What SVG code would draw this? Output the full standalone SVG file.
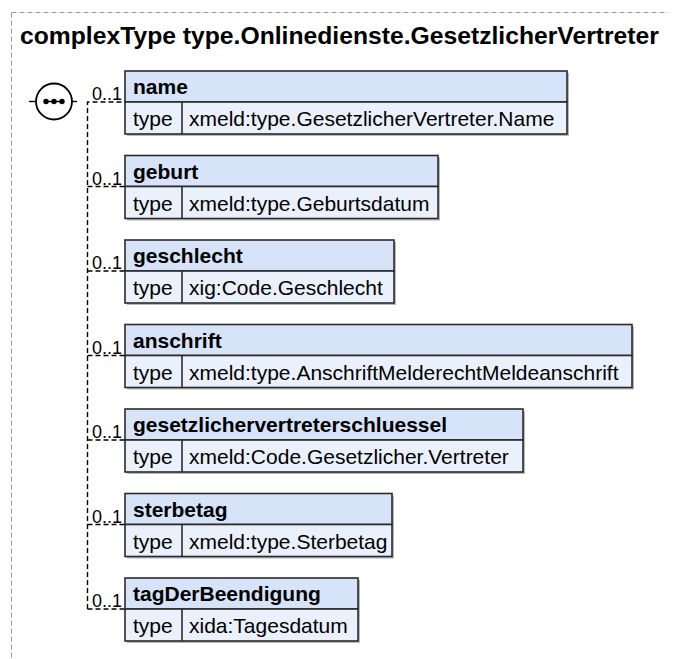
<svg xmlns="http://www.w3.org/2000/svg" width="679" height="659" viewBox="0 0 679 659">
<style>
  text { font-family: "Liberation Sans", Arial, sans-serif; fill: #000; }
  .title { font-size: 24.7px; font-weight: bold; }
  .hname { font-size: 21px; font-weight: bold; }
  .cell { font-size: 21px; }
  .card { font-size: 18px; }
  .frame { fill: none; stroke: #999; stroke-width: 1; stroke-dasharray: 5 3; }
  .hdr { fill: #d6e3f8; stroke: #2b2b2b; stroke-width: 1.6; }
  .row { fill: #eaf1fc; stroke: #2b2b2b; stroke-width: 1.6; }
  .shadow { fill: #b8b8b8; }
  .div { stroke: #2b2b2b; stroke-width: 1.6; }
  .conn { fill: none; stroke: #000; stroke-width: 1.4; stroke-dasharray: 5 3; }
</style>

<path class="frame" d="M11.5,12.5 H668 M11.5,12.5 V659"/>
<text class="title" x="20" y="44">complexType type.Onlinedienste.GesetzlicherVertreter</text>

<g id="connectors">
  <line class="conn" x1="29" y1="101.5" x2="36" y2="101.5" style="stroke-dasharray:none"/>
  <path class="conn" d="M72,101.5 H80"/>
  <path class="conn" d="M87.5,609 V102 H125"/>
  <path class="conn" d="M87.5,186.5 H125"/>
  <path class="conn" d="M87.5,271 H125"/>
  <path class="conn" d="M87.5,355.5 H125"/>
  <path class="conn" d="M87.5,440 H125"/>
  <path class="conn" d="M87.5,524.5 H125"/>
  <path class="conn" d="M87.5,609 H125"/>
  <text class="card" x="92" y="100">0..1</text>
  <text class="card" x="92" y="184.5">0..1</text>
  <text class="card" x="92" y="269">0..1</text>
  <text class="card" x="92" y="353.5">0..1</text>
  <text class="card" x="92" y="438">0..1</text>
  <text class="card" x="92" y="522.5">0..1</text>
  <text class="card" x="92" y="607">0..1</text>
</g>

<g id="sequence">
  <circle cx="54" cy="101.5" r="18" fill="#fff" stroke="#000" stroke-width="1.8"/>
  <line x1="44" y1="101.5" x2="64" y2="101.5" stroke="#000" stroke-width="1.5"/>
  <circle cx="46" cy="101.5" r="2.7" fill="#000"/>
  <circle cx="54" cy="101.5" r="2.7" fill="#000"/>
  <circle cx="62" cy="101.5" r="2.7" fill="#000"/>
</g>

<g id="name" transform="translate(125,71)">
  <rect class="shadow" x="2" y="2" width="442" height="63"/>
  <rect class="hdr" x="0" y="0" width="442" height="31"/>
  <rect class="row" x="0" y="31" width="442" height="32"/>
  <line class="div" x1="57" y1="31" x2="57" y2="63"/>
  <text class="hname" x="8" y="23">name</text>
  <text class="cell" x="8" y="55">type</text>
  <text class="cell" x="64" y="55">xmeld:type.GesetzlicherVertreter.Name</text>
</g>

<g id="geburt" transform="translate(125,155.5)">
  <rect class="shadow" x="2" y="2" width="313" height="63"/>
  <rect class="hdr" x="0" y="0" width="313" height="31"/>
  <rect class="row" x="0" y="31" width="313" height="32"/>
  <line class="div" x1="57" y1="31" x2="57" y2="63"/>
  <text class="hname" x="8" y="23">geburt</text>
  <text class="cell" x="8" y="55">type</text>
  <text class="cell" x="64" y="55">xmeld:type.Geburtsdatum</text>
</g>

<g id="geschlecht" transform="translate(125,240)">
  <rect class="shadow" x="2" y="2" width="269" height="63"/>
  <rect class="hdr" x="0" y="0" width="269" height="31"/>
  <rect class="row" x="0" y="31" width="269" height="32"/>
  <line class="div" x1="57" y1="31" x2="57" y2="63"/>
  <text class="hname" x="8" y="23">geschlecht</text>
  <text class="cell" x="8" y="55">type</text>
  <text class="cell" x="64" y="55">xig:Code.Geschlecht</text>
</g>

<g id="anschrift" transform="translate(125,324.5)">
  <rect class="shadow" x="2" y="2" width="507" height="63"/>
  <rect class="hdr" x="0" y="0" width="507" height="31"/>
  <rect class="row" x="0" y="31" width="507" height="32"/>
  <line class="div" x1="57" y1="31" x2="57" y2="63"/>
  <text class="hname" x="8" y="23">anschrift</text>
  <text class="cell" x="8" y="55">type</text>
  <text class="cell" x="64" y="55">xmeld:type.AnschriftMelderechtMeldeanschrift</text>
</g>

<g id="gesetzlichervertreterschluessel" transform="translate(125,409)">
  <rect class="shadow" x="2" y="2" width="398" height="63"/>
  <rect class="hdr" x="0" y="0" width="398" height="31"/>
  <rect class="row" x="0" y="31" width="398" height="32"/>
  <line class="div" x1="57" y1="31" x2="57" y2="63"/>
  <text class="hname" x="8" y="23">gesetzlichervertreterschluessel</text>
  <text class="cell" x="8" y="55">type</text>
  <text class="cell" x="64" y="55">xmeld:Code.Gesetzlicher.Vertreter</text>
</g>

<g id="sterbetag" transform="translate(125,493.5)">
  <rect class="shadow" x="2" y="2" width="267" height="63"/>
  <rect class="hdr" x="0" y="0" width="267" height="31"/>
  <rect class="row" x="0" y="31" width="267" height="32"/>
  <line class="div" x1="57" y1="31" x2="57" y2="63"/>
  <text class="hname" x="8" y="23">sterbetag</text>
  <text class="cell" x="8" y="55">type</text>
  <text class="cell" x="64" y="55">xmeld:type.Sterbetag</text>
</g>

<g id="tagDerBeendigung" transform="translate(125,578)">
  <rect class="shadow" x="2" y="2" width="233" height="63"/>
  <rect class="hdr" x="0" y="0" width="233" height="31"/>
  <rect class="row" x="0" y="31" width="233" height="32"/>
  <line class="div" x1="57" y1="31" x2="57" y2="63"/>
  <text class="hname" x="8" y="23">tagDerBeendigung</text>
  <text class="cell" x="8" y="55">type</text>
  <text class="cell" x="64" y="55">xida:Tagesdatum</text>
</g>
</svg>
